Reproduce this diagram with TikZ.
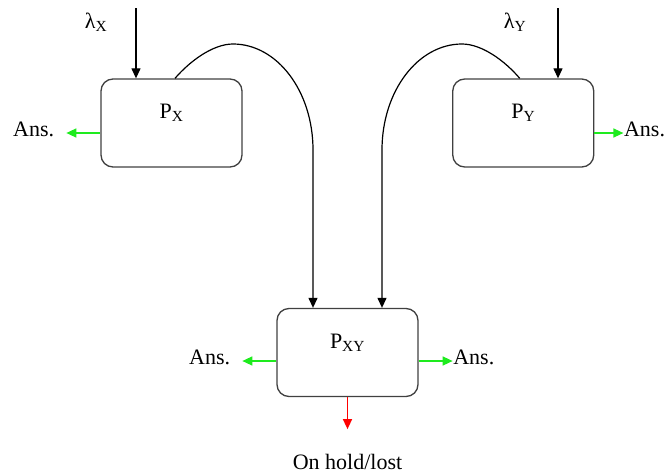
\documentclass[tikz,border=0pt]{standalone}
\usepackage{fontspec}
\setmainfont{Liberation Serif}
\usetikzlibrary{arrows.meta,positioning}
\definecolor{ansgreen}{RGB}{30,235,30}
\definecolor{boxgray}{RGB}{64,64,64}

\begin{document}
\begin{tikzpicture}[x=1pt,y=-1pt,font=\fontsize{22}{26}\selectfont,
		queue/.style={draw=boxgray,line width=1.3pt,rounded corners=12pt,minimum width=141pt,minimum height=88pt,inner sep=0pt},
		feed/.style={-{Triangle[length=10pt,width=9pt]},line width=1.2pt},
		ans/.style={-{Triangle[length=10pt,width=9pt]},ansgreen,line width=1.4pt},
		lost/.style={-{Triangle[length=10pt,width=9pt]},red,line width=1.4pt,shorten >=25pt},
		ansl/.style={inner xsep=12pt,inner ysep=0pt,text height=14pt,text depth=8pt},
		ansr/.style={inner xsep=0.5pt,inner ysep=0pt,text height=14pt,text depth=8pt},
		lbl/.style={inner sep=0pt}]
		\useasboundingbox (0,0) rectangle (667,474);

		\node[queue] (px) at (171.5,123) {};
		\node[queue] (py) at (523.25,123) {};
		\node[queue] (pxy) at (347.5,352.5) {};

		\node[lbl] (px label) at ([yshift=10pt]px.center) {P\textsubscript{X}};
		\node[lbl] (py label) at ([yshift=10pt]py.center) {P\textsubscript{Y}};
		\node[lbl] (pxy label) at ([yshift=10pt]pxy.center) {P\textsubscript{XY}};

		\coordinate (inx) at (136,8);
		\coordinate (iny) at (558,8);
		\node[lbl] (lamx) at (96,22) {λ\textsubscript{X}};
		\node[lbl] (lamy) at (515,22) {λ\textsubscript{Y}};

		\coordinate (pxw) at ([yshift=-10pt]px.west);
		\coordinate (pye) at ([yshift=-10pt]py.east);
		\coordinate (pxyw) at ([yshift=-8.5pt]pxy.west);
		\coordinate (pxye) at ([yshift=-8.5pt]pxy.east);

		\node[ansl,left=34pt of pxw] (ansx) {Ans.};
		\node[ansr,right=29pt of pye] (ansy) {Ans.};
		\node[ansl,left=34pt of pxyw] (ansxyl) {Ans.};
		\node[ansr,right=34pt of pxye] (ansxyr) {Ans.};
		\node[lbl,below=57pt of pxy] (hold) {On hold/lost};

		\draw[feed] (inx) -- (inx |- px.north);
		\draw[feed] (iny) -- (iny |- py.north);

		\draw[feed] ([xshift=3.5pt]px.north) .. controls (190,61) and (213,44) .. (233,44)
			.. controls (277,44) and (313,91) .. (313,150) -- ([xshift=-34.5pt]pxy.north);
		\draw[feed] ([xshift=-3.5pt]py.north) .. controls (505,61) and (482,44) .. (462,44)
			.. controls (418,44) and (382,91) .. (382,150) -- ([xshift=34.5pt]pxy.north);

		\draw[ans] (pxw) -- (ansx);
		\draw[ans] (pye) -- (ansy);
		\draw[ans] (pxyw) -- (ansxyl);
		\draw[ans] (pxye) -- (ansxyr);
		\draw[lost] (pxy) -- (hold);
	\end{tikzpicture}
\end{document}
